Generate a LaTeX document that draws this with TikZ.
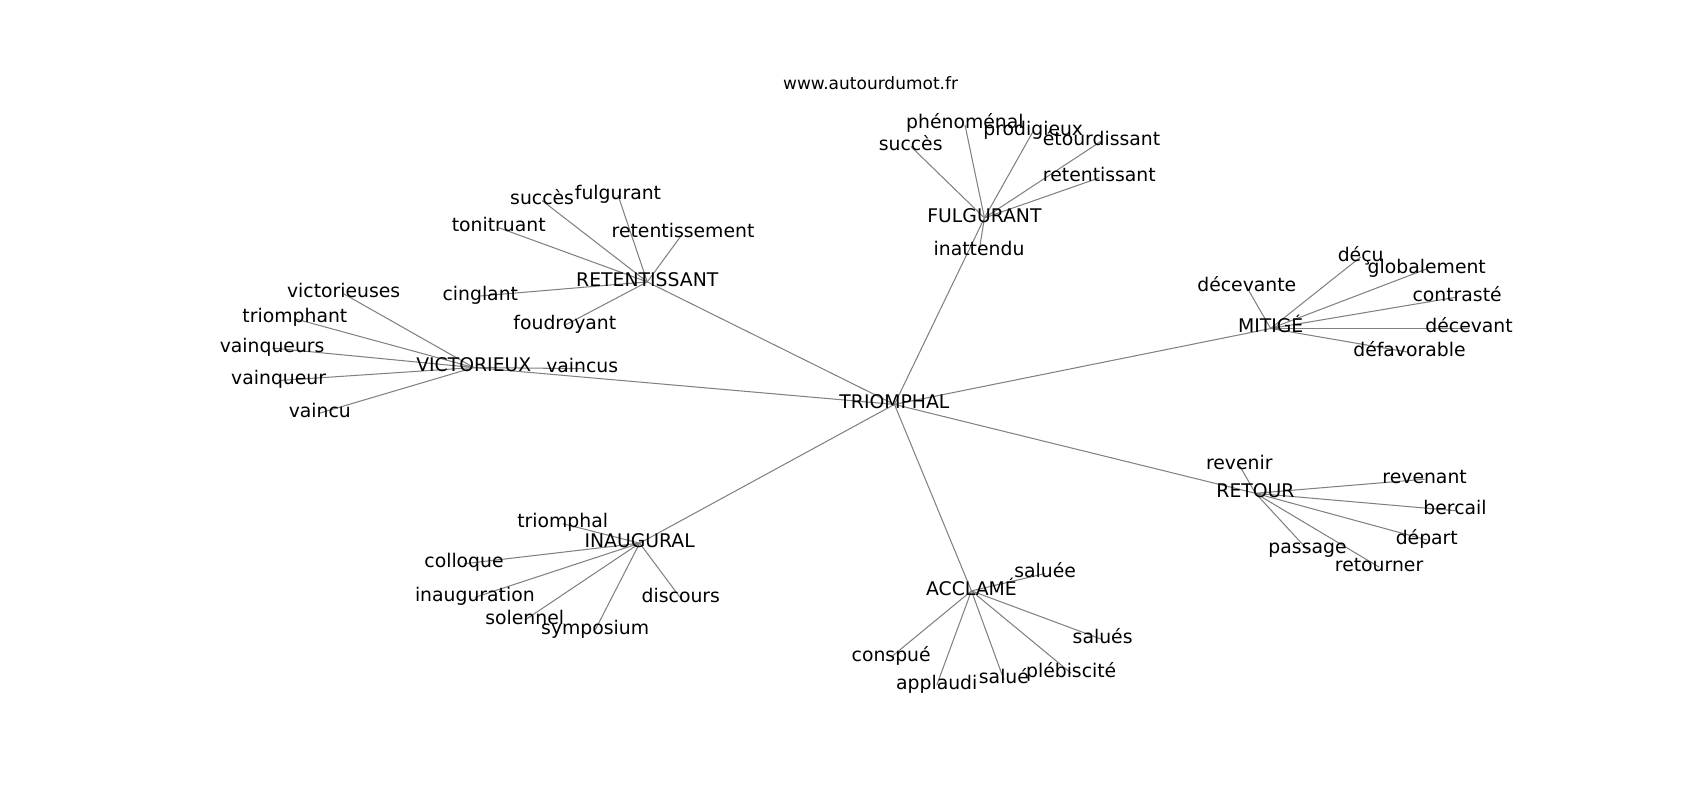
\documentclass[tikz,border=0pt]{standalone}
\usepackage{fontspec}
\setmainfont{DejaVu Sans}
\usetikzlibrary{backgrounds}
\newcommand{\wordsize}{\fontsize{13.6}{16}\selectfont}
\newcommand{\sitesize}{\fontsize{12.3}{14}\selectfont}
\tikzset{
  word/.style={inner sep=0pt, font=\wordsize, text height=1.45ex, text depth=0.35ex},
  site/.style={inner sep=0pt, font=\sitesize},
  link/.style={draw=gray, line width=0.75pt},
}

\begin{document}
\begin{tikzpicture}[x=0.010842in, y=-0.010842in]
        \useasboundingbox (0,-1) rectangle (1568,736.9);
        \node[site] (site) at (803,76) {www.autourdumot.fr};

        % centre
        \node[word] (tri) at (825,372) {TRIOMPHAL};
        % fulgurant
        \node[word] (fulg) at (908,200) {FULGURANT};
        \node[word] (fSucc) at (840,134) {succès};
        \node[word] (fPhen) at (890,114) {phénoménal};
        \node[word] (fProd) at (953,120) {prodigieux};
        \node[word] (fEtou) at (1016,129) {étourdissant};
        \node[word] (fRete) at (1014,163) {retentissant};
        \node[word] (fInat) at (903,231) {inattendu};
        % retentissant
        \node[word] (ret) at (597,259) {RETENTISSANT};
        \node[word] (rSucc) at (500,184) {succès};
        \node[word] (rFulg) at (570,179) {fulgurant};
        \node[word] (rToni) at (460,209) {tonitruant};
        \node[word] (rRete) at (630,214) {retentissement};
        \node[word] (rCing) at (443,272) {cinglant};
        \node[word] (rFoud) at (521,299) {foudroyant};
        % victorieux
        \node[word] (vic) at (437,338) {VICTORIEUX};
        \node[word] (vVicts) at (317,270) {victorieuses};
        \node[word] (vTriom) at (272,293) {triomphant};
        \node[word] (vVqrs) at (251,320) {vainqueurs};
        \node[word] (vVqr) at (257,350) {vainqueur};
        \node[word] (vVcu) at (295,380) {vaincu};
        \node[word] (vVcus) at (537,339) {vaincus};
        % mitige
        \node[word] (mit) at (1172,302) {MITIGÉ};
        \node[word] (mDecte) at (1150,264) {décevante};
        \node[word] (mDecu) at (1255,236) {déçu};
        \node[word] (mGlob) at (1316,247) {globalement};
        \node[word] (mContr) at (1344,273) {contrasté};
        \node[word] (mDecev) at (1355,302) {décevant};
        \node[word] (mDefav) at (1300,324) {défavorable};
        % retour
        \node[word] (rtr) at (1158,454) {RETOUR};
        \node[word] (tRevnr) at (1143,428) {revenir};
        \node[word] (tRevnt) at (1314,441) {revenant};
        \node[word] (tBerc) at (1342,470) {bercail};
        \node[word] (tDep) at (1316,497) {départ};
        \node[word] (tPass) at (1206,506) {passage};
        \node[word] (tRetn) at (1272,522) {retourner};
        % inaugural
        \node[word] (ina) at (590,500) {INAUGURAL};
        \node[word] (iTriom) at (519,482) {triomphal};
        \node[word] (iColl) at (428,519) {colloque};
        \node[word] (iInaug) at (438,550) {inauguration};
        \node[word] (iSolen) at (484,571) {solennel};
        \node[word] (iSymp) at (549,580) {symposium};
        \node[word] (iDisc) at (628,551) {discours};
        % acclame
        \node[word] (acc) at (896,544) {ACCLAMÉ};
        \node[word] (aSalee) at (964,528) {saluée};
        \node[word] (aSales) at (1017,589) {salués};
        \node[word] (aPleb) at (988,620) {plébiscité};
        \node[word] (aSale) at (926,626) {salué};
        \node[word] (aAppl) at (864,631) {applaudi};
        \node[word] (aConsp) at (822,605) {conspué};

        \begin{scope}[on background layer]
        % centre to hubs
        \draw[link] (tri.center) -- (fulg.center);
        \draw[link] (tri.center) -- (ret.center);
        \draw[link] (tri.center) -- (vic.center);
        \draw[link] (tri.center) -- (mit.center);
        \draw[link] (tri.center) -- (rtr.center);
        \draw[link] (tri.center) -- (ina.center);
        \draw[link] (tri.center) -- (acc.center);
        % fulgurant
        \draw[link] (fulg.center) -- (fSucc.center);
        \draw[link] (fulg.center) -- (fPhen.center);
        \draw[link] (fulg.center) -- (fProd.center);
        \draw[link] (fulg.center) -- (fEtou.center);
        \draw[link] (fulg.center) -- (fRete.center);
        \draw[link] (fulg.center) -- (fInat.center);
        % retentissant
        \draw[link] (ret.center) -- (rSucc.center);
        \draw[link] (ret.center) -- (rFulg.center);
        \draw[link] (ret.center) -- (rToni.center);
        \draw[link] (ret.center) -- (rRete.center);
        \draw[link] (ret.center) -- (rCing.center);
        \draw[link] (ret.center) -- (rFoud.center);
        % victorieux
        \draw[link] (vic.center) -- (vVicts.center);
        \draw[link] (vic.center) -- (vTriom.center);
        \draw[link] (vic.center) -- (vVqrs.center);
        \draw[link] (vic.center) -- (vVqr.center);
        \draw[link] (vic.center) -- (vVcu.center);
        \draw[link] (vic.center) -- (vVcus.center);
        % mitige
        \draw[link] (mit.center) -- (mDecte.center);
        \draw[link] (mit.center) -- (mDecu.center);
        \draw[link] (mit.center) -- (mGlob.center);
        \draw[link] (mit.center) -- (mContr.center);
        \draw[link] (mit.center) -- (mDecev.center);
        \draw[link] (mit.center) -- (mDefav.center);
        % retour
        \draw[link] (rtr.center) -- (tRevnr.center);
        \draw[link] (rtr.center) -- (tRevnt.center);
        \draw[link] (rtr.center) -- (tBerc.center);
        \draw[link] (rtr.center) -- (tDep.center);
        \draw[link] (rtr.center) -- (tPass.center);
        \draw[link] (rtr.center) -- (tRetn.center);
        % inaugural
        \draw[link] (ina.center) -- (iTriom.center);
        \draw[link] (ina.center) -- (iColl.center);
        \draw[link] (ina.center) -- (iInaug.center);
        \draw[link] (ina.center) -- (iSolen.center);
        \draw[link] (ina.center) -- (iSymp.center);
        \draw[link] (ina.center) -- (iDisc.center);
        % acclame
        \draw[link] (acc.center) -- (aSalee.center);
        \draw[link] (acc.center) -- (aSales.center);
        \draw[link] (acc.center) -- (aPleb.center);
        \draw[link] (acc.center) -- (aSale.center);
        \draw[link] (acc.center) -- (aAppl.center);
        \draw[link] (acc.center) -- (aConsp.center);
        \end{scope}
    \end{tikzpicture}
\end{document}
